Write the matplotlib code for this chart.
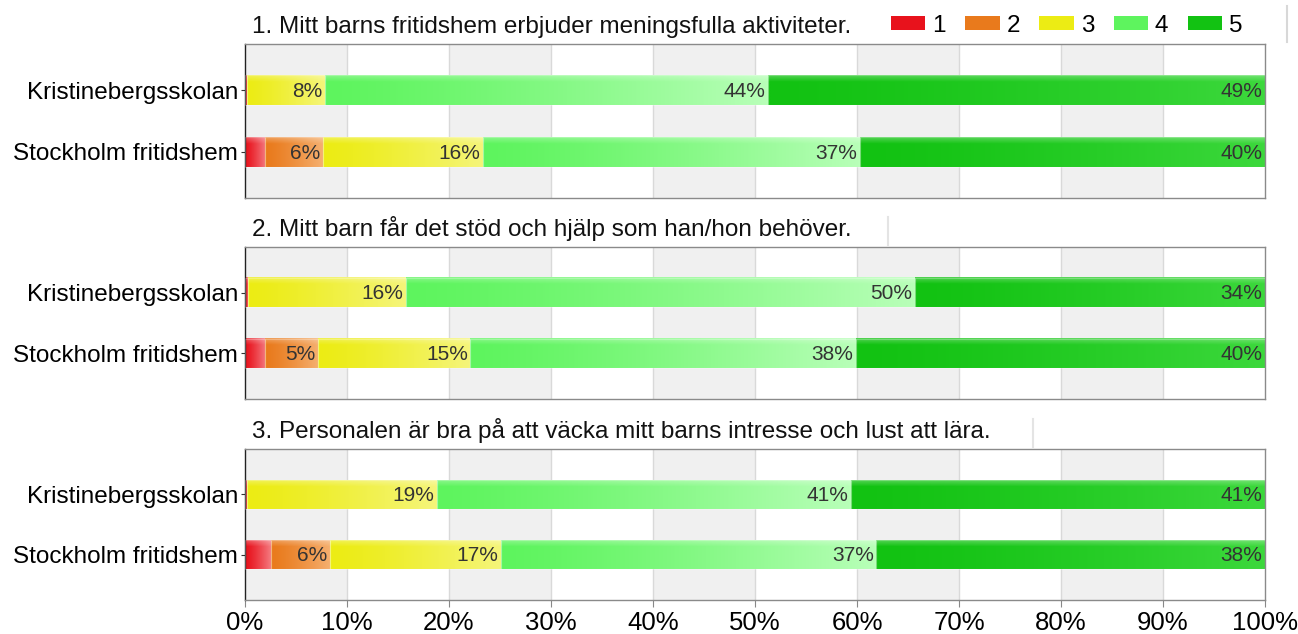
import numpy as np
import matplotlib
matplotlib.use("Agg")
import matplotlib.pyplot as plt
from matplotlib.patches import Patch, Rectangle
from matplotlib.colors import to_rgb

plt.rcParams['font.family'] = ['Liberation Sans', 'DejaVu Sans']

questions = [
    "1. Mitt barns fritidshem erbjuder meningsfulla aktiviteter.",
    "2. Mitt barn får det stöd och hjälp som han/hon behöver.",
    "3. Personalen är bra på att väcka mitt barns intresse och lust att lära.",
]
groups = ["Kristinebergsskolan", "Stockholm fritidshem"]
levels = ["1", "2", "3", "4", "5"]

# percentages per question: [group][level]
q1 = [[0.2, 0.0, 7.6, 43.5, 48.7],
      [2.0, 5.6, 15.7, 37.0, 39.7]]
q2 = [[0.3, 0.0, 15.5, 49.9, 34.3],
      [2.0, 5.2, 14.9, 37.8, 40.1]]
q3 = [[0.2, 0.0, 18.6, 40.6, 40.6],
      [2.5, 5.8, 16.8, 36.8, 38.1]]
data = [q1, q2, q3]

xticks = list(range(0, 101, 10))
xticklabels = [f"{t}%" for t in xticks]

colors = ["#e8121c", "#e97a1c", "#ecec14", "#5ef45e", "#12c212"]
light = ["#f47a80", "#f5b070", "#f5f57a", "#b8ffb8", "#3cd83c"]

W, H = 1298, 634
fig = plt.figure(figsize=(W / 100, H / 100), dpi=100)

panels = [(44, 198), (247, 399), (449, 600)]
title_ends = [None, 888, 1033]
left, right = 245, 1265
bar_h = 0.48


def gradient_img(c0, c1):
    n = 64
    a = np.array(to_rgb(c0))
    b = np.array(to_rgb(c1))
    t = np.linspace(0, 1, n) ** 1.3
    row = a[None, :] * (1 - t[:, None]) + b[None, :] * t[:, None]
    rows = 20
    img = np.repeat(row[None, :, :], rows, axis=0)
    for r in range(rows):
        f = max(0.0, 0.25 * (1 - r / 4.0))
        img[r] = img[r] * (1 - f) + f
    return np.clip(img, 0, 1)


axes = []
for pi, (top, bot) in enumerate(panels):
    ax = fig.add_axes([left / W, 1 - bot / H, (right - left) / W, (bot - top) / H])
    axes.append(ax)
    for k in range(0, 100, 20):
        ax.axvspan(k, k + 10, color="#f0f0f0", zorder=0, lw=0)
    for t in xticks[1:-1]:
        ax.axvline(t, color="#d9d9d9", lw=1, zorder=0.5)
    vals = data[pi]
    for gi, row in enumerate(vals):
        cum = 0.0
        for li, v in enumerate(row):
            if v <= 0:
                continue
            x0, x1 = cum, cum + v
            y0, y1 = gi - bar_h / 2, gi + bar_h / 2
            img = gradient_img(colors[li], light[li])
            ax.imshow(img, extent=(x0, x1, y1, y0), aspect='auto',
                      interpolation='bilinear', zorder=2)
            ax.add_patch(Rectangle((x0, y0), v, bar_h, fill=False,
                                   edgecolor=(1, 1, 1, 0.25), lw=0.8, zorder=3))
            if v >= 4.5:
                ax.text(x1 - 0.25, gi + 0.02, f"{round(v):.0f}%", ha='right', va='center',
                        fontsize=15, color="#333333", zorder=4)
            cum = x1
    ax.set_xlim(0, 100)
    ax.set_ylim(1.75, -0.75)
    ax.set_yticks(range(len(groups)))
    ax.set_yticklabels(groups, fontsize=17.5)
    ax.set_xticks(xticks)
    ax.tick_params(axis='y', length=3, color="#333333", pad=2)
    if pi == 2:
        ax.set_xticklabels(xticklabels, fontsize=18.5)
        ax.tick_params(axis='x', length=5, color="#888888", pad=3)
    else:
        ax.tick_params(axis='x', length=0, labelbottom=False)
    for s in ['top', 'right', 'bottom']:
        ax.spines[s].set_color("#8a8a8a")
        ax.spines[s].set_linewidth(1.0)
    ax.spines['left'].set_color("#222222")
    ax.spines['left'].set_linewidth(1.0)
    ax.annotate(questions[pi], xy=(0, 1), xycoords='axes fraction',
                xytext=(5, 8), textcoords='offset points', ha='left', va='baseline',
                fontsize=17.5, color="#111111")
    if title_ends[pi] is not None:
        xe = (title_ends[pi] - left) / (right - left)
        ax.plot([xe, xe], [1.01, 1.2], transform=ax.transAxes, color="#e4e4e4",
                lw=1.5, clip_on=False)

handles = [Patch(facecolor=c, edgecolor='none') for c in colors]
axes[0].legend(handles, levels, loc='lower right',
               bbox_to_anchor=(1.0 - 15 / 1020, 1.0),
               ncol=5, frameon=False, fontsize=17.5, handlelength=1.42,
               handleheight=0.55, handletextpad=0.28, columnspacing=0.8,
               borderaxespad=0.1, borderpad=0.2)
axes[0].plot([1.022, 1.022], [1.01, 1.25], transform=axes[0].transAxes,
             color="#d8d8d8", lw=1.5, clip_on=False)

fig.savefig("out.png", dpi=100)
